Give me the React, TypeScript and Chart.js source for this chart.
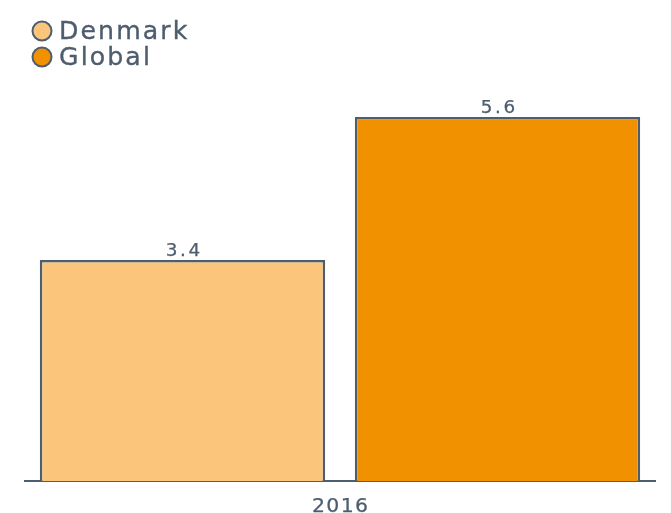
import React, { useEffect, useRef } from "react";
import { Chart, registerables } from "chart.js";

Chart.register(...registerables);

const categories = ["2016"];
const seriesNames = ["Denmark", "Global"];
const denmarkValues = [3.4];
const globalValues = [5.6];
const seriesColors = ["#fbc67b", "#f29100"];

const TEXT = "#4d5d6e";
const EDGE = "#4e5e6e";
const FONT = "'DejaVu Sans', sans-serif";

function drawStretched(ctx: any, text: string, cx: number, baseline: number, size: number, spacing: number, sx: number, align: "center" | "left", stroke: number) {
  ctx.save();
  ctx.font = `${size}px ${FONT}`;
  (ctx as any).letterSpacing = `${spacing}px`;
  ctx.textBaseline = "alphabetic";
  ctx.textAlign = "left";
  const w = ctx.measureText(text).width - spacing;
  ctx.translate(cx, baseline);
  ctx.scale(sx, 1);
  const x0 = align === "center" ? -w / 2 : 0;
  ctx.fillStyle = TEXT;
  ctx.strokeStyle = TEXT;
  ctx.lineWidth = stroke;
  ctx.lineJoin = "round";
  ctx.fillText(text, x0, 0);
  if (stroke > 0) ctx.strokeText(text, x0, 0);
  ctx.restore();
}

export default function App() {
  const ref = useRef<HTMLCanvasElement | null>(null);

  useEffect(() => {
    if (!ref.current) return;

    const textPlugin = {
      id: "texts",
      afterDatasetsDraw(chart: any) {
        const ctx = chart.ctx;
        chart.data.datasets.forEach((ds: any, i: number) => {
          const meta = chart.getDatasetMeta(i);
          meta.data.forEach((bar: any, j: number) => {
            drawStretched(ctx, String(ds.data[j]), bar.x + 0.5, bar.y - 4, 17, 2.4, 1.08, "center", 0.25);
          });
        });
        const xs = chart.scales.x;
        xs.ticks.forEach((t: any, k: number) => {
          drawStretched(ctx, String(chart.data.labels[k]), xs.getPixelForTick(k), 511.5, 19.5, 1.2, 1.05, "center", 0.25);
        });
      },
      afterDraw(chart: any) {
        const ctx = chart.ctx;
        chart.data.datasets.forEach((ds: any, i: number) => {
          const cy = 31 + i * 26;
          ctx.save();
          ctx.beginPath();
          ctx.arc(42, cy, 9.5, 0, Math.PI * 2);
          ctx.fillStyle = ds.backgroundColor;
          ctx.fill();
          ctx.lineWidth = 2;
          ctx.strokeStyle = EDGE;
          ctx.stroke();
          ctx.restore();
          drawStretched(ctx, ds.label, 59, cy + 8, 24, 2, 1.05, "left", 0.35);
        });
      },
    };

    const chart = new Chart(ref.current, {
      type: "bar",
      data: {
        labels: categories,
        datasets: [
          {
            label: seriesNames[0],
            data: denmarkValues,
            backgroundColor: seriesColors[0],
            borderColor: EDGE,
            borderWidth: 2.5,
          },
          {
            label: seriesNames[1],
            data: globalValues,
            backgroundColor: seriesColors[1],
            borderColor: EDGE,
            borderWidth: 2.5,
          },
        ],
      },
      options: {
        animation: false,
        responsive: true,
        maintainAspectRatio: false,
        layout: { padding: { left: 25, right: 16, top: 91, bottom: 0 } },
        datasets: { bar: { categoryPercentage: 1, barPercentage: 0.906 } },
        plugins: {
          legend: { display: false },
          tooltip: { enabled: false },
        },
        scales: {
          x: {
            grid: { display: false },
            border: { display: true, color: EDGE, width: 2 },
            ticks: {
              color: "rgba(0,0,0,0)",
              font: { family: FONT, size: 18 },
              padding: 10,
            },
            afterFit(scale: any) {
              scale.height = 32;
            },
          },
          y: {
            display: false,
            min: 0,
            max: 6,
          },
        },
      },
      plugins: [textPlugin],
    });

    return () => chart.destroy();
  }, []);

  return (
    <div style={{ position: "fixed", left: 0, top: 0, width: 671, height: 513, background: "#fff" }}>
      <canvas ref={ref} />
    </div>
  );
}
